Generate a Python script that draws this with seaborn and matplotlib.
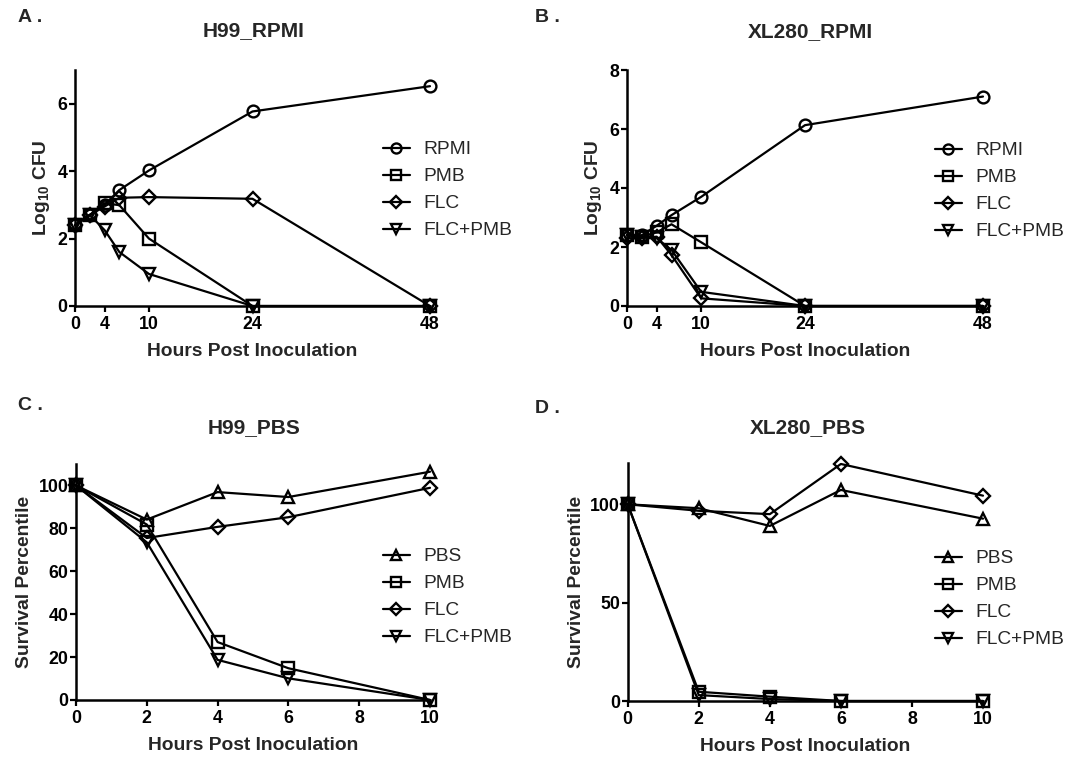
import numpy as np
import pandas as pd
import matplotlib
matplotlib.use("Agg")
import matplotlib.pyplot as plt
from matplotlib.lines import Line2D
import seaborn as sns

# ---------------- data ----------------
hours_rpmi = [0, 2, 4, 6, 10, 24, 48]
h99_rpmi_RPMI = [2.4, 2.7, 3.0, 3.44, 4.02, 5.77, 6.52]
h99_rpmi_PMB = [2.4, 2.7, 3.05, 2.99, 2.0, 0.0, 0.0]
h99_rpmi_FLC = [2.4, 2.7, 2.95, 3.21, 3.23, 3.18, 0.0]
h99_rpmi_FLCPMB = [2.4, 2.7, 2.25, 1.6, 0.95, 0.0, 0.0]

xl_rpmi_RPMI = [2.4, 2.4, 2.72, 3.08, 3.7, 6.13, 7.1]
xl_rpmi_PMB = [2.4, 2.35, 2.5, 2.77, 2.16, 0.0, 0.0]
xl_rpmi_FLC = [2.3, 2.3, 2.35, 1.73, 0.26, 0.0, 0.0]
xl_rpmi_FLCPMB = [2.4, 2.35, 2.3, 1.9, 0.48, 0.0, 0.0]

hours_pbs = [0, 2, 4, 6, 10]
h99_pbs_PBS = [100, 84.1, 96.9, 94.6, 106.4]
h99_pbs_PMB = [100, 81.8, 27.0, 14.8, 0.0]
h99_pbs_FLC = [100, 75.5, 80.7, 85.2, 98.9]
h99_pbs_FLCPMB = [100, 73.5, 18.7, 10.1, 0.0]

xl_pbs_PBS = [100, 98.0, 89.0, 107.3, 92.7]
xl_pbs_PMB = [100, 4.7, 2.2, 0.0, 0.0]
xl_pbs_FLC = [100, 96.7, 95.0, 120.5, 104.4]
xl_pbs_FLCPMB = [100, 3.0, 1.0, 0.0, 0.0]

rpmi_labels = ["RPMI", "PMB", "FLC", "FLC+PMB"]
pbs_labels = ["PBS", "PMB", "FLC", "FLC+PMB"]
rpmi_xticks = [0, 4, 10, 24, 48]
pbs_xticks = [0, 2, 4, 6, 8, 10]

# ---------------- style ----------------
sns.set_theme(style="ticks")
plt.rcParams["font.family"] = ["Liberation Sans", "DejaVu Sans"]
plt.rcParams["mathtext.fontset"] = "custom"
plt.rcParams["mathtext.rm"] = "Liberation Sans:bold"
plt.rcParams["mathtext.default"] = "rm"

W, H = 1068, 758
fig = plt.figure(figsize=(W / 100, H / 100), dpi=100)


def axes_px(left, right, top, bottom):
    return fig.add_axes([left / W, 1 - bottom / H, (right - left) / W, (bottom - top) / H])


markers_rpmi = ["o", "s", "D", "v"]
markers_pbs = ["^", "s", "D", "v"]
msizes = {"o": 8.5, "s": 8.5, "D": 7, "v": 9, "^": 9}


def draw(ax, hours, series, markers):
    for vals, m in zip(series, markers):
        sns.lineplot(x=hours, y=vals, ax=ax, color="black", lw=1.6,
                     marker=m, markersize=msizes[m], markerfacecolor="none",
                     markeredgecolor="black", markeredgewidth=1.7,
                     clip_on=False, legend=False, errorbar=None)


def style_axes(ax, xlim, ylim, xticks, yticks, ylabel):
    ax.set_xlim(*xlim)
    ax.set_ylim(*ylim)
    ax.set_xticks(xticks)
    ax.set_yticks(yticks)
    sns.despine(ax=ax)
    for s in ["left", "bottom"]:
        ax.spines[s].set_linewidth(1.8)
        ax.spines[s].set_color("black")
    ax.tick_params(axis="both", direction="out", length=4, width=1.6,
                   colors="black", labelsize=12.8, pad=1.5)
    ax.tick_params(axis="x", pad=3)
    for lab in ax.get_xticklabels() + ax.get_yticklabels():
        lab.set_fontweight("bold")
    ax.set_xlabel("Hours Post Inoculation", fontsize=13.9, fontweight="bold", labelpad=7.5)
    ax.set_ylabel(ylabel, fontsize=13.9, fontweight="bold", labelpad=4)
    ax.set_facecolor("white")


def legend_px(labels, markers, x, y):
    handles = [Line2D([], [], color="black", lw=1.6, marker=m, markersize=msizes[m] * 0.85,
                      markerfacecolor="none", markeredgecolor="black", markeredgewidth=1.7)
               for m in markers]
    fig.legend(handles, labels, loc="upper left", bbox_to_anchor=(x / W, 1 - y / H),
               frameon=False, fontsize=13.8, handlelength=1.4, handletextpad=0.7,
               labelspacing=0.5, borderpad=0, borderaxespad=0)


# Panel A
axA = axes_px(75, 430, 70, 306)
draw(axA, hours_rpmi, [h99_rpmi_RPMI, h99_rpmi_PMB, h99_rpmi_FLC, h99_rpmi_FLCPMB], markers_rpmi)
style_axes(axA, (0, 48), (0, 7), rpmi_xticks, [0, 2, 4, 6], r"Log$_{10}$ CFU")
legend_px(rpmi_labels, markers_rpmi, 383, 141)

# Panel B
axB = axes_px(627, 983, 70, 306)
draw(axB, hours_rpmi, [xl_rpmi_RPMI, xl_rpmi_PMB, xl_rpmi_FLC, xl_rpmi_FLCPMB], markers_rpmi)
style_axes(axB, (0, 48), (0, 8), rpmi_xticks, [0, 2, 4, 6, 8], r"Log$_{10}$ CFU")
legend_px(rpmi_labels, markers_rpmi, 935, 142)

# Panel C
axC = axes_px(76, 430, 464, 700)
draw(axC, hours_pbs, [h99_pbs_PBS, h99_pbs_PMB, h99_pbs_FLC, h99_pbs_FLCPMB], markers_pbs)
style_axes(axC, (0, 10), (0, 110), pbs_xticks, [0, 20, 40, 60, 80, 100], "Survival Percentile")
legend_px(pbs_labels, markers_pbs, 383, 548)

# Panel D
axD = axes_px(627.7, 983, 463, 701)
draw(axD, hours_pbs, [xl_pbs_PBS, xl_pbs_PMB, xl_pbs_FLC, xl_pbs_FLCPMB], markers_pbs)
style_axes(axD, (0, 10), (0, 121), pbs_xticks, [0, 50, 100], "Survival Percentile")
legend_px(pbs_labels, markers_pbs, 935, 550)

# titles and panel letters
def ftext(x, y, s, size, ha="center"):
    fig.text(x / W, 1 - y / H, s, fontsize=size, fontweight="bold", ha=ha, va="center")

ftext(254, 31, "H99_RPMI", 15)
ftext(810, 32, "XL280_RPMI", 15)
ftext(254, 428, "H99_PBS", 15)
ftext(808, 428, "XL280_PBS", 15)
ftext(18, 18, "A .", 14, ha="left")
ftext(535, 18, "B .", 14, ha="left")
ftext(18, 406, "C .", 14, ha="left")
ftext(535, 408, "D .", 14, ha="left")

fig.savefig("out.png", dpi=100, facecolor="white")
